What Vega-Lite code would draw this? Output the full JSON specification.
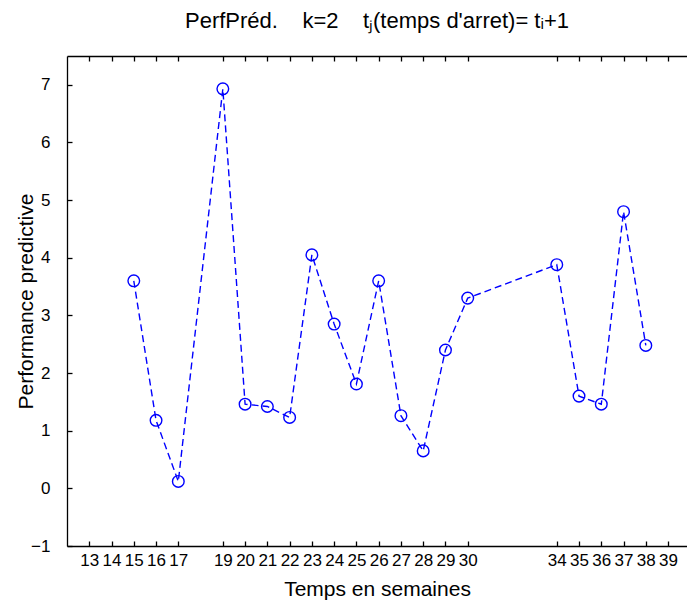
{
  "$schema": "https://vega.github.io/schema/vega-lite/v6.json",
  "autosize": {"type": "none"},
  "padding": {"left": 67, "top": 56, "right": 0, "bottom": 60},
  "width": 620,
  "height": 490,
  "background": "white",
  "config": {
    "view": {"stroke": null},
    "font": "Liberation Sans",
    "axis": {"grid": false, "domainColor": "#000000", "tickColor": "#000000", "labelColor": "#000000", "titleColor": "#000000", "domainWidth": 1.3, "tickWidth": 1.3, "labelFont": "Liberation Sans", "titleFont": "Liberation Sans", "titleFontWeight": "normal", "labelFontSize": 17, "titleFontSize": 21}
  },
  "title": {
    "text": "PerfPréd.\u00a0\u00a0\u00a0\u00a0k=2\u00a0\u00a0\u00a0\u00a0tⱼ(temps d'arret)= tᵢ+1",
    "font": "Liberation Sans",
    "fontSize": 22,
    "fontWeight": "normal",
    "color": "#000000",
    "anchor": "middle",
    "offset": 22
  },
  "data": {
    "values": [
      {"semaine": 15, "perf": 3.6},
      {"semaine": 16, "perf": 1.18},
      {"semaine": 17, "perf": 0.12},
      {"semaine": 19, "perf": 6.93},
      {"semaine": 20, "perf": 1.46},
      {"semaine": 21, "perf": 1.42},
      {"semaine": 22, "perf": 1.23},
      {"semaine": 23, "perf": 4.05},
      {"semaine": 24, "perf": 2.85},
      {"semaine": 25, "perf": 1.81},
      {"semaine": 26, "perf": 3.6},
      {"semaine": 27, "perf": 1.26},
      {"semaine": 28, "perf": 0.65},
      {"semaine": 29, "perf": 2.4},
      {"semaine": 30, "perf": 3.3},
      {"semaine": 34, "perf": 3.88},
      {"semaine": 35, "perf": 1.6},
      {"semaine": 36, "perf": 1.46},
      {"semaine": 37, "perf": 4.8},
      {"semaine": 38, "perf": 2.48}
    ]
  },
  "layer": [
    {
      "mark": {"type": "line", "color": "#0000ff", "strokeWidth": 1.4, "strokeDash": [7, 4]},
      "encoding": {
        "x": {
          "field": "semaine", "type": "quantitative",
          "scale": {"domain": [12, 39.85], "nice": false, "zero": false},
          "axis": {
            "title": "Temps en semaines",
            "values": [13, 14, 15, 16, 17, 19, 20, 21, 22, 23, 24, 25, 26, 27, 28, 29, 30, 34, 35, 36, 37, 38, 39],
            "labelOverlap": false,
            "labelFlush": false,
            "tickSize": -5,
            "labelPadding": 11,
            "titlePadding": 10
          }
        },
        "y": {
          "field": "perf", "type": "quantitative",
          "scale": {"domain": [-1, 7.5], "nice": false, "zero": false},
          "axis": {
            "title": "Performance predictive",
            "values": [-1, 0, 1, 2, 3, 4, 5, 6, 7],
            "format": "d",
            "tickSize": -5,
            "labelPadding": 22,
            "labelFlush": false,
            "titlePadding": -6
          }
        }
      }
    },
    {
      "mark": {"type": "point", "shape": "circle", "filled": false, "color": "#0000ff", "strokeWidth": 1.4, "size": 135, "opacity": 1},
      "encoding": {
        "x": {"field": "semaine", "type": "quantitative", "axis": null},
        "y": {"field": "perf", "type": "quantitative"}
      }
    },
    {
      "mark": {"type": "rule", "opacity": 0},
      "encoding": {
        "x": {
          "field": "semaine", "type": "quantitative",
          "axis": {
            "orient": "top",
            "title": null,
            "labels": false,
            "values": [13, 14, 15, 16, 17, 19, 20, 21, 22, 23, 24, 25, 26, 27, 28, 29, 30, 34, 35, 36, 37, 38, 39],
            "tickSize": -5
          }
        }
      }
    }
  ],
  "resolve": {"axis": {"x": "independent"}}
}
